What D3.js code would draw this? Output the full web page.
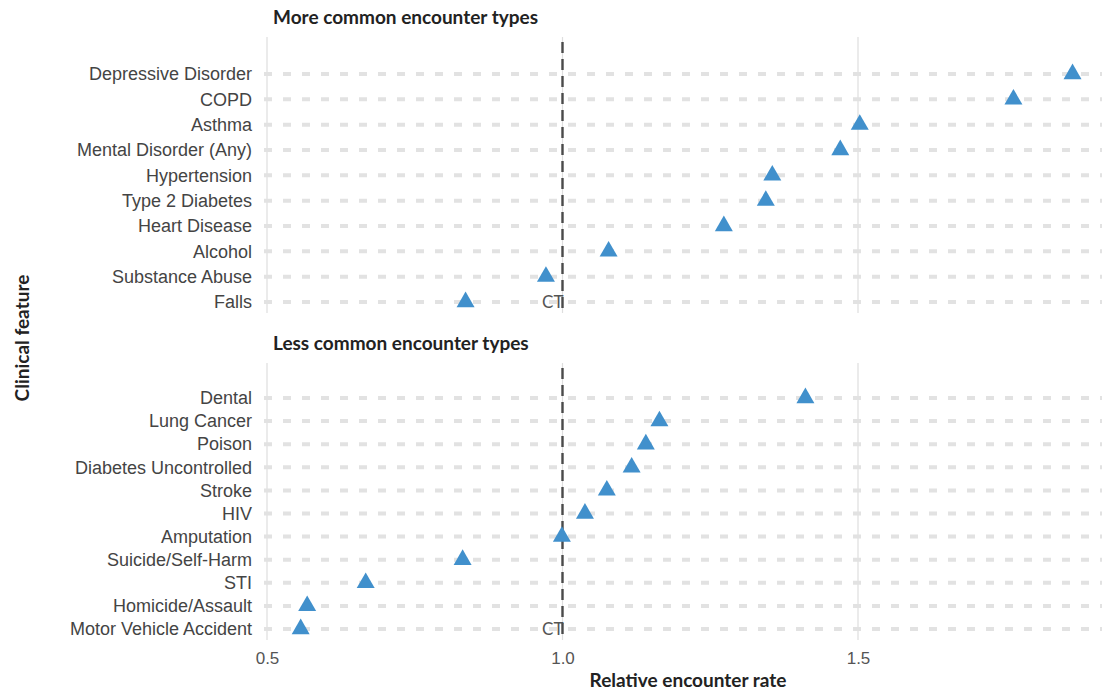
<!DOCTYPE html>
<html>
<head>
<meta charset="utf-8">
<script src="https://cdn.jsdelivr.net/npm/d3@7"></script>
<style>
  body { margin: 0; background: #fff; }
  svg { font-family: "Source Sans Pro", Lato, "Noto Sans", sans-serif; }
</style>
</head>
<body>
<div id="vis"></div>
<script>
"use strict";
const [width, height] = [1102, 692];

// data
const moreCats = ["Depressive Disorder", "COPD", "Asthma", "Mental Disorder (Any)", "Hypertension",
  "Type 2 Diabetes", "Heart Disease", "Alcohol", "Substance Abuse", "Falls"];
const moreVals = [1.863, 1.763, 1.503, 1.470, 1.355, 1.344, 1.273, 1.078, 0.972, 0.836];
const lessCats = ["Dental", "Lung Cancer", "Poison", "Diabetes Uncontrolled", "Stroke", "HIV",
  "Amputation", "Suicide/Self-Harm", "STI", "Homicide/Assault", "Motor Vehicle Accident"];
const lessVals = [1.411, 1.164, 1.141, 1.117, 1.075, 1.038, 0.999, 0.831, 0.667, 0.568, 0.557];
const panelTitles = ["More common encounter types", "Less common encounter types"];
const xTicks = [0.5, 1.0, 1.5];
const refValue = 1.0;
const refLabel = "CT";

const panelLeft = 262, panelRight = width;
const x = d3.scaleLinear().domain([0.5, 1.5]).range([267, 858]);

// panel layout
const panels = [
  { title: panelTitles[0], cats: moreCats, vals: moreVals, top: 37, bottom: 313, rows: [74, 302] },
  { title: panelTitles[1], cats: lessCats, vals: lessVals, top: 363, bottom: 640, rows: [398, 629] }
];

const svg = d3.select('#vis').append('svg')
  .attr('width', width).attr('height', height)
  .attr('viewBox', [0, 0, width, height]);

const tri = d3.symbol().type(d3.symbolTriangle).size(140);

panels.forEach(p => {
  const y = d3.scalePoint().domain(p.cats).range(p.rows);
  const g = svg.append('g');

  // vertical grid
  g.selectAll('line.vgrid')
    .data(xTicks)
    .join('line')
      .attr('class', 'vgrid')
      .attr('x1', d => x(d)).attr('x2', d => x(d))
      .attr('y1', p.top).attr('y2', p.bottom)
      .attr('stroke', '#dedede').attr('stroke-width', 1.2);

  // dotted row lines
  g.selectAll('line.hgrid')
    .data(p.cats)
    .join('line')
      .attr('class', 'hgrid')
      .attr('x1', panelLeft + 2).attr('x2', panelRight)
      .attr('y1', d => y(d)).attr('y2', d => y(d))
      .attr('stroke', '#e2e2e2').attr('stroke-width', 4)
      .attr('stroke-dasharray', '8,11');

  // reference line
  g.append('line')
    .attr('x1', x(refValue)).attr('x2', x(refValue))
    .attr('y1', p.top + 5).attr('y2', p.bottom)
    .attr('stroke', '#4a4a4a').attr('stroke-width', 2.4)
    .attr('stroke-dasharray', '11,6');

  g.append('text')
    .attr('x', x(refValue) + 1).attr('y', y(p.cats[p.cats.length - 1]))
    .attr('dy', '0.35em')
    .attr('text-anchor', 'end')
    .attr('fill', '#555').attr('font-size', 17)
    .text(refLabel);

  // points
  g.selectAll('path.pt')
    .data(p.cats.map((c, i) => ({ c, v: p.vals[i] })))
    .join('path')
      .attr('class', 'pt')
      .attr('d', tri)
      .attr('transform', d => `translate(${x(d.v)},${y(d.c)})`)
      .attr('fill', '#4190cc');

  // y axis
  const ya = g.append('g')
    .attr('transform', `translate(${panelLeft - 1},0)`)
    .call(d3.axisLeft(y).tickSize(0).tickPadding(9));
  ya.select('.domain').remove();
  ya.selectAll('text')
    .attr('font-family', null)
    .attr('font-size', 18).attr('fill', '#444');

  // panel title
  g.append('text')
    .attr('x', 273).attr('y', p.top - 13)
    .attr('font-size', 19).attr('font-weight', 'bold').attr('fill', '#222')
    .text(p.title);
});

// x axis
const xa = svg.append('g')
  .attr('transform', `translate(0,${panels[1].bottom + 4})`)
  .call(d3.axisBottom(x).tickValues(xTicks).tickFormat(d3.format('.1f')).tickSize(0).tickPadding(8));
xa.select('.domain').remove();
xa.selectAll('text')
  .attr('font-family', null)
  .attr('font-size', 17).attr('fill', '#555');

svg.append('text')
  .attr('x', 688).attr('y', 687)
  .attr('text-anchor', 'middle')
  .attr('font-size', 19).attr('font-weight', 'bold').attr('fill', '#222')
  .text('Relative encounter rate');

svg.append('text')
  .attr('transform', `translate(29,338) rotate(-90)`)
  .attr('text-anchor', 'middle')
  .attr('font-size', 19).attr('font-weight', 'bold').attr('fill', '#222')
  .text('Clinical feature');
</script>
</body>
</html>
